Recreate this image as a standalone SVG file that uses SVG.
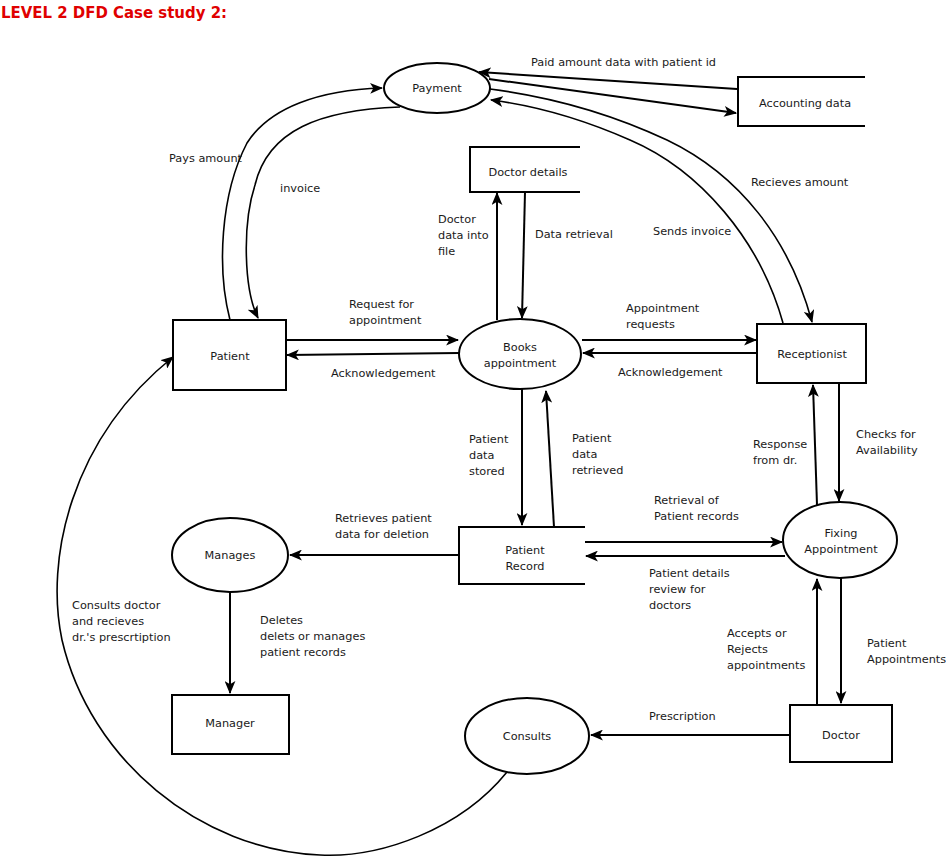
<svg xmlns="http://www.w3.org/2000/svg" width="946" height="858" viewBox="0 0 946 858">
<style>
.t{font-family:"DejaVu Sans",Verdana,sans-serif;font-size:11.3px;fill:#1a1a1a}
.c{text-anchor:middle}
.s{fill:none;stroke:#000;stroke-width:2}
.l{fill:none;stroke:#000;stroke-width:2;marker-end:url(#a)}
.cv{fill:none;stroke:#000;stroke-width:1.6;marker-end:url(#a)}
.title{font-family:"DejaVu Sans",Verdana,sans-serif;font-size:16px;font-weight:bold;fill:#e00000}
</style>
<defs>
<marker id="a" viewBox="0 0 12 10" refX="11" refY="5" markerWidth="13" markerHeight="11" orient="auto" markerUnits="userSpaceOnUse">
<path d="M0,0 L12,5 L0,10 L3,5 Z" fill="#000"/>
</marker>
</defs>
<rect width="946" height="858" fill="#fff"/>
<text class="title" x="1" y="18" textLength="226" lengthAdjust="spacingAndGlyphs">LEVEL 2 DFD Case study 2:</text>

<g id="payment"><ellipse class="s" cx="437" cy="88" rx="53" ry="25"/><text class="t c" x="437" y="92">Payment</text></g>
<g id="accounting-data"><path class="s" d="M865,77 H738 V126 H865"/><text class="t c" x="805" y="107">Accounting data</text></g>
<g id="doctor-details"><path class="s" d="M580,147 H470 V192 H580"/><text class="t c" x="528" y="176">Doctor details</text></g>
<g id="patient"><rect class="s" x="173" y="320" width="113" height="70"/><text class="t c" x="230" y="360">Patient</text></g>
<g id="books-appointment"><ellipse class="s" cx="520" cy="354" rx="61" ry="35"/><text class="t c" x="520" y="351">Books</text><text class="t c" x="520" y="367">appointment</text></g>
<g id="receptionist"><rect class="s" x="757" y="324" width="109" height="59"/><text class="t c" x="812" y="358">Receptionist</text></g>
<g id="patient-record"><path class="s" d="M585,527 H459 V584 H585"/><text class="t c" x="525" y="554">Patient</text><text class="t c" x="525" y="570">Record</text></g>
<g id="fixing-appointment"><ellipse class="s" cx="840" cy="540" rx="57" ry="38"/><text class="t c" x="841" y="537">Fixing</text><text class="t c" x="841" y="553">Appointment</text></g>
<g id="manages"><ellipse class="s" cx="230" cy="555" rx="58" ry="37"/><text class="t c" x="230" y="559">Manages</text></g>
<g id="manager"><rect class="s" x="172" y="695" width="117" height="59"/><text class="t c" x="230" y="727">Manager</text></g>
<g id="consults"><ellipse class="s" cx="527" cy="736" rx="62" ry="38"/><text class="t c" x="527" y="740">Consults</text></g>
<g id="doctor"><rect class="s" x="790" y="705" width="102" height="57"/><text class="t c" x="841" y="739">Doctor</text></g>

<g id="connectors">
<path class="l" d="M737,89 L479,72"/>
<path class="l" d="M489,79 L736,113"/>
<path class="cv" d="M230,320 C217,270 220,195 247,143 C270,107 320,90 382,88"/>
<path class="cv" d="M400,107 C320,110 268,130 255,185 C242,225 244,290 258,318"/>
<path class="cv" d="M783,323 C760,240 700,170 630,140 C580,118 530,105 491,100"/>
<path class="cv" d="M490,89 C560,98 620,118 667,140 C740,175 790,240 812,322"/>
<path class="l" d="M497,320 L497,193"/>
<path class="l" d="M525,192 L522,318"/>
<path class="l" d="M286,340 L458,340"/>
<path class="l" d="M459,353 L287,355"/>
<path class="l" d="M582,340 L756,340"/>
<path class="l" d="M757,353 L583,353"/>
<path class="l" d="M839,383 L839,501"/>
<path class="l" d="M817,505 L813,385"/>
<path class="l" d="M522,389 L522,525"/>
<path class="l" d="M554,527 L546,391"/>
<path class="l" d="M585,542 L782,542"/>
<path class="l" d="M785,556 L586,556"/>
<path class="l" d="M459,555 L290,555"/>
<path class="l" d="M230,592 L230,693"/>
<path class="l" d="M841,578 L841,703"/>
<path class="l" d="M817,705 L817,579"/>
<path class="l" d="M790,735 L591,735"/>
<path class="cv" d="M507,772 C460,830 380,858 320,855 C200,850 90,760 62,640 C45,560 70,440 173,357"/>
</g>

<g id="labels">
<text class="t" x="531" y="66">Paid amount data with patient id</text>
<text class="t" x="169" y="162">Pays amount</text>
<text class="t" x="280" y="192">invoice</text>
<text class="t" x="438" y="223">Doctor</text><text class="t" x="438" y="239">data into</text><text class="t" x="438" y="255">file</text>
<text class="t" x="535" y="238">Data retrieval</text>
<text class="t" x="751" y="186">Recieves amount</text>
<text class="t" x="653" y="235">Sends invoice</text>
<text class="t" x="349" y="308">Request for</text><text class="t" x="349" y="324">appointment</text>
<text class="t" x="331" y="377">Acknowledgement</text>
<text class="t" x="626" y="312">Appointment</text><text class="t" x="626" y="328">requests</text>
<text class="t" x="618" y="376">Acknowledgement</text>
<text class="t" x="856" y="438">Checks for</text><text class="t" x="856" y="454">Availability</text>
<text class="t" x="753" y="448">Response</text><text class="t" x="753" y="464">from dr.</text>
<text class="t" x="469" y="443">Patient</text><text class="t" x="469" y="459">data</text><text class="t" x="469" y="475">stored</text>
<text class="t" x="572" y="442">Patient</text><text class="t" x="572" y="458">data</text><text class="t" x="572" y="474">retrieved</text>
<text class="t" x="654" y="504">Retrieval of</text><text class="t" x="654" y="520">Patient records</text>
<text class="t" x="335" y="522">Retrieves patient</text><text class="t" x="335" y="538">data for deletion</text>
<text class="t" x="649" y="577">Patient details</text><text class="t" x="649" y="593">review for</text><text class="t" x="649" y="609">doctors</text>
<text class="t" x="72" y="609">Consults doctor</text><text class="t" x="72" y="625">and recieves</text><text class="t" x="72" y="641">dr.'s prescrtiption</text>
<text class="t" x="260" y="624">Deletes</text><text class="t" x="260" y="640">delets or manages</text><text class="t" x="260" y="656">patient records</text>
<text class="t" x="727" y="637">Accepts or</text><text class="t" x="727" y="653">Rejects</text><text class="t" x="727" y="669">appointments</text>
<text class="t" x="867" y="647">Patient</text><text class="t" x="867" y="663">Appointments</text>
<text class="t" x="649" y="720">Prescription</text>
</g>
</svg>
